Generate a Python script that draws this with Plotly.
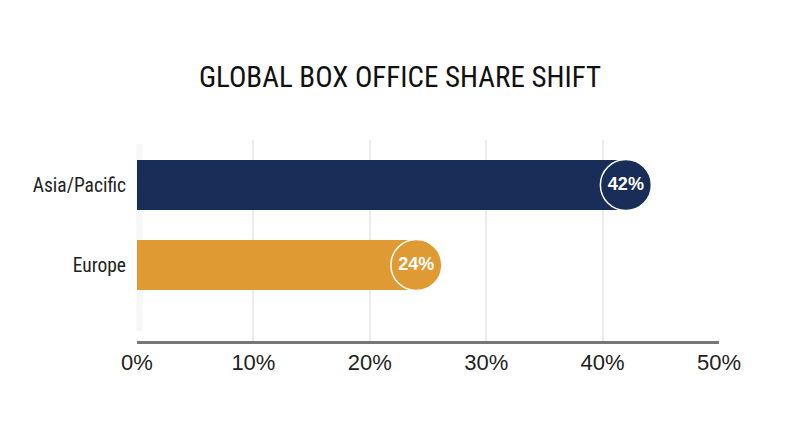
import plotly.graph_objects as go

# chart data
regions = ['Europe', 'Asia/Pacific']
shares = [24, 42]
labels = ['24%', '42%']
bar_colors = ['#df9a33', '#182d57']
tick_vals = [0, 10, 20, 30, 40, 50]
tick_text = ['0%', '10%', '20%', '30%', '40%', '50%']

NARROW = 'Liberation Sans Narrow, Roboto Condensed, DejaVu Sans Condensed, Arial Narrow, sans-serif'
REGULAR = 'Liberation Sans, Helvetica, Arial, sans-serif'

fig = go.Figure()

fig.add_trace(go.Bar(
    x=shares, y=regions, orientation='h',
    marker=dict(color=bar_colors, line=dict(width=0)),
    width=0.625, hoverinfo='skip', showlegend=False
))

# round value badges at the end of each bar
fig.add_trace(go.Scatter(
    x=shares, y=regions, mode='markers+text',
    text=labels, textposition='middle center',
    textfont=dict(color='white', size=18, family='Liberation Sans, Arial, sans-serif', weight='bold'),
    marker=dict(size=51, color=bar_colors, line=dict(color='white', width=1.5)),
    hoverinfo='skip', showlegend=False, cliponaxis=False
))

# faint shadow down the left edge of the plot
fig.add_shape(type='line', xref='paper', yref='paper', x0=0.004, x1=0.004, y0=0.05, y1=0.98,
              line=dict(color='rgba(0,0,0,0.035)', width=6), layer='below')

fig.update_layout(
    title=dict(text='GLOBAL BOX OFFICE SHARE SHIFT', x=0.5, xanchor='center', y=0.828, yanchor='middle',
               font=dict(family=NARROW, size=29, color='#111111')),
    xaxis=dict(range=[0, 50], tickvals=tick_vals, ticktext=tick_text, showgrid=True,
               gridcolor='#ebebeb', gridwidth=1.5, zeroline=False, showline=True,
               linecolor='#777777', linewidth=2.5, ticks='', ticklabelstandoff=0,
               tickfont=dict(family=REGULAR, size=22, color='#222222'), fixedrange=True),
    yaxis=dict(categoryorder='array', categoryarray=regions, range=[-0.95, 1.5625],
               showgrid=False, zeroline=False, showline=False, ticks='', ticklabelstandoff=10,
               tickfont=dict(family=NARROW, size=19.5, color='#222222'), fixedrange=True),
    paper_bgcolor='white', plot_bgcolor='white',
    width=800, height=447,
    margin=dict(l=137, r=81, t=140, b=106),
    bargap=0
)

fig.write_html('out.html', config={'displayModeBar': False},
               post_script="document.body.style.margin='0';")
